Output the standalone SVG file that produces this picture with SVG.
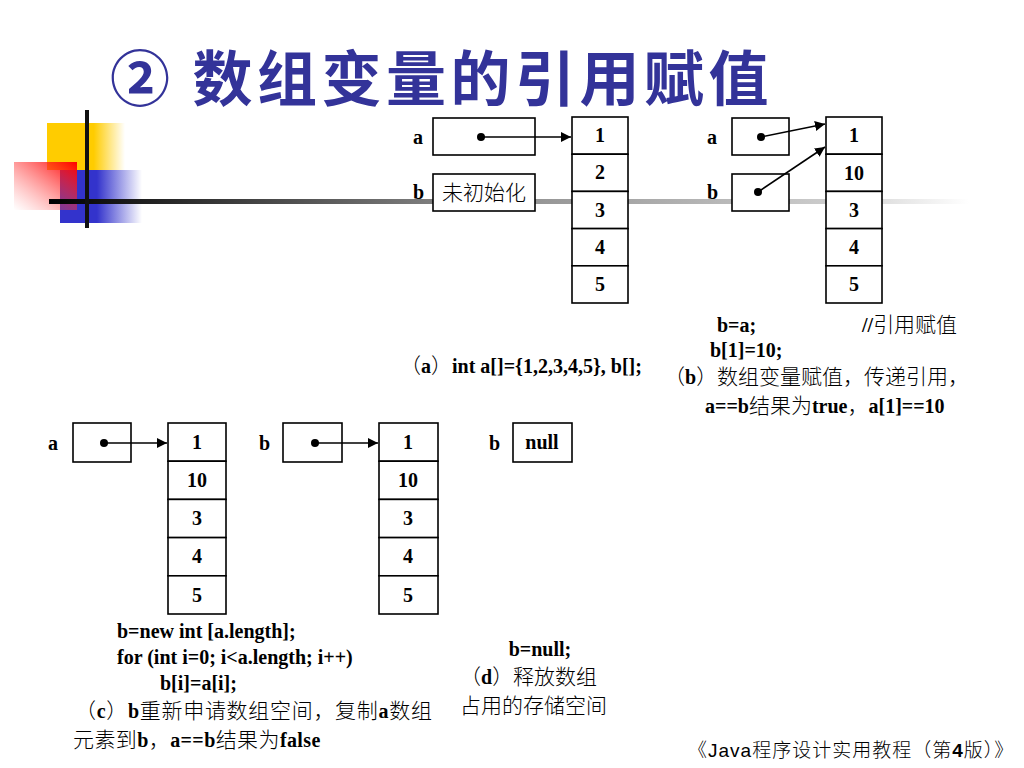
<svg xmlns="http://www.w3.org/2000/svg" width="1024" height="768" viewBox="0 0 1024 768">
<defs>
<linearGradient id="gLine" x1="0" y1="0" x2="1" y2="0">
<stop offset="0" stop-color="#000"/><stop offset="0.45" stop-color="#888"/><stop offset="0.85" stop-color="#ccc"/><stop offset="1" stop-color="#fff"/>
</linearGradient>
<linearGradient id="gYel" x1="0" y1="0" x2="1" y2="0">
<stop offset="0.6" stop-color="#FFCC00"/><stop offset="1" stop-color="#FFCC00" stop-opacity="0"/>
</linearGradient>
<linearGradient id="gBlue" x1="0" y1="0" x2="1" y2="0">
<stop offset="0.45" stop-color="#3333CC"/><stop offset="1" stop-color="#3333CC" stop-opacity="0"/>
</linearGradient>
<linearGradient id="gRed" x1="1" y1="0" x2="0" y2="1">
<stop offset="0" stop-color="#FF0000"/><stop offset="1" stop-color="#FF6666" stop-opacity="0"/>
</linearGradient>
<marker id="arr" viewBox="0 0 10 10" refX="10" refY="5" markerWidth="10" markerHeight="10" markerUnits="userSpaceOnUse" orient="auto">
<path d="M0,0 L10,5 L0,10 Z" fill="#000"/>
</marker>
<style>
.box{fill:#fff;stroke:#000;stroke-width:1.6}
.lt{font-family:"Liberation Serif",serif;font-weight:bold;font-size:20px;fill:#000}
.num{font-family:"Liberation Serif",serif;font-weight:bold;font-size:20px;fill:#000;text-anchor:middle}
.cn{font-family:"Liberation Serif","Noto Sans CJK SC",serif;font-size:20px;fill:#000}
.cjk{font-family:"Noto Sans CJK SC",sans-serif;font-weight:300;font-size:21px}
.b{font-family:"Liberation Serif",serif;font-weight:bold}
.con{stroke:#000;stroke-width:1.6;fill:none;marker-end:url(#arr)}
.dot{fill:#000}
</style>
</defs>
<rect width="1024" height="768" fill="#fff"/>

<g id="decoration">
<rect x="47" y="123" width="78" height="47" fill="url(#gYel)"/>
<rect x="60" y="170" width="82" height="53" fill="url(#gBlue)"/>
<rect x="14" y="162" width="63" height="48" fill="url(#gRed)"/>
<rect x="49" y="199" width="920" height="5" fill="url(#gLine)"/>
<rect x="85" y="110" width="4" height="118" fill="#111"/>
</g>

<text id="title" x="110" y="101" font-family="Noto Sans CJK SC,sans-serif" font-weight="bold" font-size="60" fill="#333399" letter-spacing="4.5">② 数组变量的引用赋值</text>

<!-- (a) -->
<g id="a-ref-a">
<text class="lt" x="413" y="144">a</text>
<rect class="box" x="433" y="118" width="102" height="37"/>
<circle class="dot" cx="481" cy="137" r="4"/>
</g>
<g id="a-ref-b">
<text class="lt" x="413" y="199">b</text>
<rect class="box" x="433" y="174" width="102" height="37"/>
<text x="484" y="200" text-anchor="middle" font-family="Noto Sans CJK SC,sans-serif" font-weight="300" font-size="21">未初始化</text>
</g>
<g id="a-array">
<rect class="box" x="572" y="117" width="56" height="37.2"/>
<rect class="box" x="572" y="154.2" width="56" height="37.2"/>
<rect class="box" x="572" y="191.4" width="56" height="37.2"/>
<rect class="box" x="572" y="228.6" width="56" height="37.2"/>
<rect class="box" x="572" y="265.8" width="56" height="37.2"/>
<text class="num" x="600" y="142">1</text>
<text class="num" x="600" y="179">2</text>
<text class="num" x="600" y="217">3</text>
<text class="num" x="600" y="254">4</text>
<text class="num" x="600" y="291">5</text>
</g>
<text id="cap-a" class="cn" x="400" y="373"><tspan class="cjk">（</tspan><tspan class="b">a</tspan><tspan class="cjk">）</tspan><tspan class="b">int a[]={1,2,3,4,5}, b[];</tspan></text>

<!-- (b) -->
<g id="b-ref-a">
<text class="lt" x="707" y="144">a</text>
<rect class="box" x="732" y="118" width="57" height="37"/>
<circle class="dot" cx="761" cy="137" r="4"/>
</g>
<g id="b-ref-b">
<text class="lt" x="707" y="199">b</text>
<rect class="box" x="732" y="174" width="57" height="37"/>
<circle class="dot" cx="758" cy="192" r="4"/>
</g>
<g id="b-array">
<rect class="box" x="826" y="117" width="56" height="37.2"/>
<rect class="box" x="826" y="154.2" width="56" height="37.2"/>
<rect class="box" x="826" y="191.4" width="56" height="37.2"/>
<rect class="box" x="826" y="228.6" width="56" height="37.2"/>
<rect class="box" x="826" y="265.8" width="56" height="37.2"/>
<text class="num" x="854" y="142">1</text>
<text class="num" x="854" y="180">10</text>
<text class="num" x="854" y="217">3</text>
<text class="num" x="854" y="254">4</text>
<text class="num" x="854" y="291">5</text>
</g>
<g id="cap-b">
<text class="lt" x="717" y="332">b=a;</text>
<text class="cn" x="862" y="332"><tspan class="b">//</tspan><tspan class="cjk">引用赋值</tspan></text>
<text class="lt" x="710" y="357">b[1]=10;</text>
<text class="cn" x="664" y="384"><tspan class="cjk">（</tspan><tspan class="b">b</tspan><tspan class="cjk">）数组变量赋值，传递引用，</tspan></text>
<text class="cn" x="705" y="413"><tspan class="b">a==b</tspan><tspan class="cjk">结果为</tspan><tspan class="b">true</tspan><tspan class="cjk">，</tspan><tspan class="b">a[1]==10</tspan></text>
</g>

<!-- (c) -->
<g id="c-ref-a">
<text class="lt" x="48" y="450">a</text>
<rect class="box" x="73" y="423" width="58" height="39"/>
<circle class="dot" cx="104" cy="443" r="4"/>
</g>
<g id="c-array-a">
<rect class="box" x="168" y="423" width="58" height="38.2"/>
<rect class="box" x="168" y="461.2" width="58" height="38.2"/>
<rect class="box" x="168" y="499.4" width="58" height="38.2"/>
<rect class="box" x="168" y="537.6" width="58" height="38.2"/>
<rect class="box" x="168" y="575.8" width="58" height="38.2"/>
<text class="num" x="197" y="449">1</text>
<text class="num" x="197" y="487">10</text>
<text class="num" x="197" y="525">3</text>
<text class="num" x="197" y="563">4</text>
<text class="num" x="197" y="602">5</text>
</g>
<g id="c-ref-b">
<text class="lt" x="259" y="450">b</text>
<rect class="box" x="283" y="423" width="59" height="39"/>
<circle class="dot" cx="315" cy="443" r="4"/>
</g>
<g id="c-array-b">
<rect class="box" x="379" y="423" width="59" height="38.2"/>
<rect class="box" x="379" y="461.2" width="59" height="38.2"/>
<rect class="box" x="379" y="499.4" width="59" height="38.2"/>
<rect class="box" x="379" y="537.6" width="59" height="38.2"/>
<rect class="box" x="379" y="575.8" width="59" height="38.2"/>
<text class="num" x="408" y="449">1</text>
<text class="num" x="408" y="487">10</text>
<text class="num" x="408" y="525">3</text>
<text class="num" x="408" y="563">4</text>
<text class="num" x="408" y="602">5</text>
</g>
<g id="cap-c">
<text class="lt" x="117" y="638">b=new int [a.length];</text>
<text class="lt" x="117" y="664">for (int i=0; i&lt;a.length; i++)</text>
<text class="lt" x="160" y="690">b[i]=a[i];</text>
<text class="cn" x="75" y="718" letter-spacing="0.7"><tspan class="cjk">（</tspan><tspan class="b">c</tspan><tspan class="cjk">）</tspan><tspan class="b">b</tspan><tspan class="cjk">重新申请数组空间，复制</tspan><tspan class="b">a</tspan><tspan class="cjk">数组</tspan></text>
<text class="cn" x="73" y="747" letter-spacing="0.4"><tspan class="cjk">元素到</tspan><tspan class="b">b</tspan><tspan class="cjk">，</tspan><tspan class="b">a==b</tspan><tspan class="cjk">结果为</tspan><tspan class="b">false</tspan></text>
</g>

<!-- (d) -->
<g id="d-ref-b">
<text class="lt" x="489" y="450">b</text>
<rect class="box" x="513" y="423" width="59" height="39"/>
<text class="num" x="542" y="449">null</text>
</g>
<g id="cap-d">
<text class="lt" x="540" y="656" text-anchor="middle">b=null;</text>
<text class="cn" x="460" y="684"><tspan class="cjk">（</tspan><tspan class="b">d</tspan><tspan class="cjk">）释放数组</tspan></text>
<text class="cn" x="460" y="713"><tspan class="cjk">占用的存储空间</tspan></text>
</g>

<g id="connectors">
<line class="con" x1="481" y1="137" x2="571" y2="137"/>
<line class="con" x1="761" y1="137" x2="825" y2="124"/>
<line class="con" x1="758" y1="192" x2="825" y2="147"/>
<line class="con" x1="104" y1="443" x2="167" y2="443"/>
<line class="con" x1="315" y1="443" x2="378" y2="443"/>
</g>

<text id="footer" x="688" y="757" font-family="Noto Sans CJK SC,sans-serif" font-weight="300" font-size="19" letter-spacing="1" fill="#000">《<tspan font-family="Liberation Sans,sans-serif" font-weight="normal">Java</tspan>程序设计实用教程（第<tspan font-family="Liberation Sans,sans-serif" font-weight="bold">4</tspan>版）》</text>
</svg>
